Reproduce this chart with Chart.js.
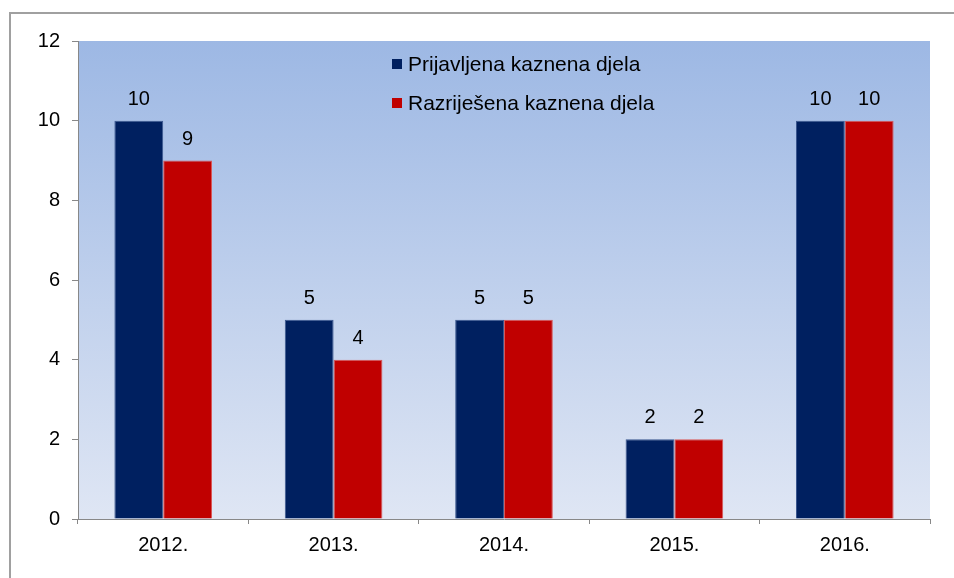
<!DOCTYPE html>
<html>
<head>
<meta charset="utf-8">
<script src="https://cdn.jsdelivr.net/npm/chart.js@4/dist/chart.umd.min.js"></script>
<style>
  html, body { margin: 0; padding: 0; background: #fff; }
  #wrap { width: 954px; height: 578px; }
</style>
</head>
<body>
<div id="wrap"><canvas id="kaznenaChart" width="954" height="578"></canvas></div>
<script>
// Data
const categories = ["2012.", "2013.", "2014.", "2015.", "2016."];
const prijavljena = [10, 5, 5, 2, 10];
const razrijesena = [9, 4, 5, 2, 10];
const seriesLabels = ["Prijavljena kaznena djela", "Razriješena kaznena djela"];
const yMin = 0;
const yMax = 12;
const yStep = 2;

const FONT = "'Liberation Sans', Arial, sans-serif";

// Outer frame + plot gradient
const backgroundPlugin = {
  id: "background",
  beforeDraw(chart) {
    const { ctx, chartArea } = chart;
    ctx.save();
    ctx.strokeStyle = "#a0a0a0";
    ctx.lineWidth = 2;
    ctx.strokeRect(10, 13, 1000, 1000);
    const g = ctx.createLinearGradient(0, chartArea.top, 0, chartArea.bottom);
    g.addColorStop(0, "#9db8e4");
    g.addColorStop(1, "#dfe6f4");
    ctx.fillStyle = g;
    ctx.fillRect(chartArea.left, chartArea.top,
      chartArea.right - chartArea.left, chartArea.bottom - chartArea.top);
    ctx.restore();
  },
};

// Value labels above bars
const valueLabelPlugin = {
  id: "valueLabels",
  afterDatasetsDraw(chart) {
    const { ctx } = chart;
    ctx.save();
    ctx.font = "20px " + FONT;
    ctx.fillStyle = "#000";
    ctx.textAlign = "center";
    ctx.textBaseline = "alphabetic";
    chart.data.datasets.forEach((ds, i) => {
      chart.getDatasetMeta(i).data.forEach((bar, j) => {
        ctx.fillText(String(ds.data[j]), bar.x, bar.y - 16);
      });
    });
    ctx.restore();
  },
};

// Legend inside the plot area
const insideLegendPlugin = {
  id: "insideLegend",
  afterDraw(chart) {
    const { ctx } = chart;
    ctx.save();
    ctx.font = "21px " + FONT;
    ctx.textBaseline = "middle";
    chart.data.datasets.forEach((ds, i) => {
      const y = 64 + i * 39;
      ctx.fillStyle = ds.backgroundColor;
      ctx.fillRect(392, y - 5, 10, 10);
      ctx.fillStyle = "#000";
      ctx.fillText(ds.label, 408, y + 1);
    });
    ctx.restore();
  },
};

const ctx = document.getElementById("kaznenaChart").getContext("2d");
new Chart(ctx, {
  type: "bar",
  data: {
    labels: categories,
    datasets: [
      {
        label: seriesLabels[0],
        data: prijavljena,
        backgroundColor: "#002060",
        borderColor: "#3b5890",
        borderWidth: 1,
      },
      {
        label: seriesLabels[1],
        data: razrijesena,
        backgroundColor: "#c00000",
        borderColor: "#d85858",
        borderWidth: 1,
      },
    ],
  },
  options: {
    responsive: false,
    animation: false,
    layout: { padding: { left: 0, right: 24, top: 41, bottom: 0 } },
    datasets: {
      bar: { categoryPercentage: 0.573, barPercentage: 1.0 },
    },
    scales: {
      x: {
        afterFit: (scale) => { scale.height = 59; },
        grid: {
          display: true,
          offset: true,
          drawOnChartArea: false,
          drawTicks: true,
          tickLength: 5,
          color: "#888",
        },
        border: { display: true, color: "#888", width: 1 },
        ticks: { color: "#000", font: { family: FONT, size: 20 }, padding: 9 },
      },
      y: {
        min: yMin,
        max: yMax,
        afterFit: (scale) => { scale.width = 78; },
        grid: {
          display: true,
          drawOnChartArea: false,
          drawTicks: true,
          tickLength: 6,
          color: "#888",
        },
        border: { display: true, color: "#888", width: 1 },
        ticks: {
          stepSize: yStep,
          color: "#000",
          font: { family: FONT, size: 20 },
          padding: 12,
        },
      },
    },
    plugins: {
      legend: { display: false },
      tooltip: { enabled: false },
    },
  },
  plugins: [backgroundPlugin, valueLabelPlugin, insideLegendPlugin],
});
</script>
</body>
</html>
